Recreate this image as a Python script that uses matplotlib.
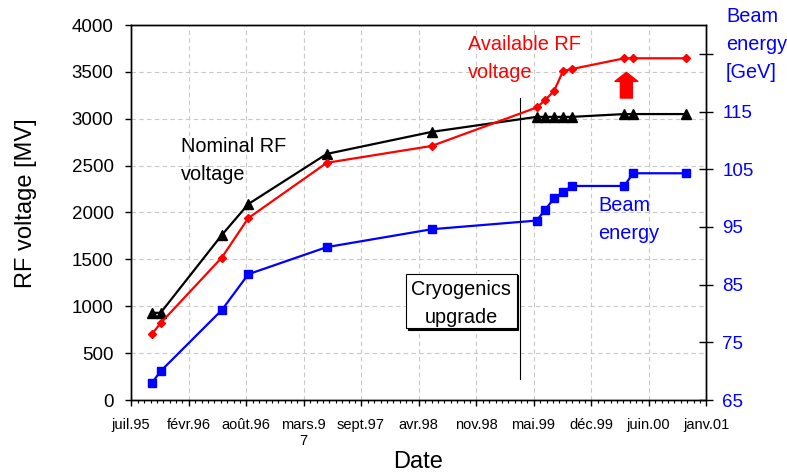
import numpy as np
import pandas as pd
import matplotlib
matplotlib.use('Agg')
import matplotlib.pyplot as plt
import matplotlib.dates as mdates
from matplotlib.patches import Rectangle, FancyArrowPatch
from matplotlib.ticker import MultipleLocator, FixedLocator

plt.rcParams['font.family'] = ['Liberation Sans', 'DejaVu Sans']

# 데이터
dates = ['1995-10-01', '1995-11-01', '1996-06-01', '1996-09-01', '1997-06-01',
         '1998-06-01', '1999-06-01', '1999-07-01', '1999-08-01', '1999-09-01',
         '1999-10-01', '2000-04-01', '2000-05-01', '2000-11-01']
nominal_rf = [930, 930, 1760, 2090, 2625, 2860, 3020, 3020, 3020, 3020,
              3020, 3050, 3050, 3050]
available_rf = [700, 820, 1520, 1940, 2530, 2710, 3120, 3200, 3300, 3510,
                3530, 3645, 3645, 3645]
beam_energy = [67.9, 70.0, 80.6, 86.8, 91.5, 94.6, 96.1, 98.0, 100.0, 101.0,
               102.1, 102.1, 104.3, 104.3]

x_tick_labels = ['juil.95', 'févr.96', 'août.96', 'mars.9\n7', 'sept.97', 'avr.98',
                 'nov.98', 'mai.99', 'déc.99', 'juin.00', 'janv.01']
rf_ticks = [0, 500, 1000, 1500, 2000, 2500, 3000, 3500, 4000]
energy_ticks = [65, 75, 85, 95, 105, 115, 125]
energy_tick_labels = ['65', '75', '85', '95', '105', '115', '']

axis_start = '1995-07-21'
cryo_date = '1999-04-04'
arrow_date = '2000-04-08'

x = mdates.date2num(pd.to_datetime(dates))
x0 = mdates.date2num(pd.Timestamp(axis_start))
major_step = 200

fig = plt.figure(figsize=(7.87, 4.73), dpi=100)
ax = fig.add_axes([131 / 787, 1 - 400 / 473, 575 / 787, 375 / 473])
ax2 = ax.twinx()

# 그리드
grid_kw = dict(color='#c8c8c8', linestyle=(0, (4, 3)), linewidth=0.8)
ax.set_axisbelow(True)
ax.grid(True, axis='both', **grid_kw)

ax.plot(x, nominal_rf, color='black', lw=1.6, marker='^', ms=7, zorder=4)
ax.plot(x, available_rf, color='red', lw=1.6, marker='D', ms=4.5, zorder=4)
ax2.plot(x, beam_energy, color='blue', lw=1.6, marker='s', ms=6, zorder=4)

ax.set_xlim(x0, x0 + 10 * major_step)
ax.xaxis.set_major_locator(FixedLocator([x0 + major_step * k for k in range(11)]))
ax.xaxis.set_minor_locator(MultipleLocator(major_step / 9))
ax.set_xticklabels(x_tick_labels)
ax.set_ylim(0, 4000)
ax.set_yticks(rf_ticks)
ax2.set_ylim(65, 130)
ax2.set_yticks(energy_ticks)
ax2.set_yticklabels(energy_tick_labels)

ax.tick_params(axis='x', which='major', direction='out', length=4, width=1,
               labelsize=10.5, pad=9)
ax.tick_params(axis='x', which='minor', direction='out', length=2.5, width=0.8)
ax.tick_params(axis='y', direction='out', length=4.5, width=1, labelsize=13.5, pad=8)
ax2.tick_params(axis='y', direction='inout', length=9.5, width=1, labelsize=13.5,
                pad=7, labelcolor='blue')

for a in (ax, ax2):
    for s in a.spines.values():
        s.set_linewidth(1.0)
        s.set_color('black')

ax.set_ylabel('RF voltage [MV]', fontsize=17)
ax.yaxis.set_label_coords(-0.164, 0.525)
ax.set_xlabel('Date', fontsize=17)
ax.xaxis.set_label_coords(0.5, -0.136)

# 주석 텍스트 (y = 마지막 줄 baseline)
ls = 1.6
txt_kw = dict(fontsize=14.3, va='baseline', ha='left', linespacing=ls)
fig.text(181 / 787, 1 - 180 / 473, 'Nominal RF\nvoltage', **txt_kw)
fig.text(468 / 787, 1 - 78 / 473, 'Available RF\nvoltage', color='red', **txt_kw)
fig.text(598 / 787, 1 - 239 / 473, 'Beam\nenergy', color='blue', **txt_kw)
fig.text(726 / 787, 1 - 78 / 473, 'Beam\nenergy\n[GeV]', color='blue', **txt_kw)

# Cryogenics 박스 + 세로선
bx, by, bw, bh = 406 / 787, 1 - 328.3 / 473, 110.7 / 787, 54.3 / 473
fig.patches.append(Rectangle((bx + 1.5 / 787, by - 1.5 / 473), bw, bh,
                             transform=fig.transFigure, facecolor='black',
                             edgecolor='black', lw=0.8, zorder=5))
fig.patches.append(Rectangle((bx, by), bw, bh, transform=fig.transFigure,
                             facecolor='white', edgecolor='black', lw=0.8, zorder=6))
fig.text(bx + bw / 2, 1 - 323 / 473, 'Cryogenics\nupgrade', fontsize=14.3,
         ha='center', va='baseline', linespacing=ls, zorder=7)

cx = mdates.date2num(pd.Timestamp(cryo_date))
ax.plot([cx, cx], [224, 3221], color='black', lw=0.8, zorder=3)

# 빨간 화살표
axp = mdates.date2num(pd.Timestamp(arrow_date))
arrow = FancyArrowPatch((axp, 3221), (axp, 3495),
                        arrowstyle='simple,head_length=6.5,head_width=16.5,tail_width=8.6',
                        mutation_scale=1, color='red', shrinkA=0, shrinkB=0, zorder=5)
ax.add_patch(arrow)

plt.savefig('out.png', dpi=100)
